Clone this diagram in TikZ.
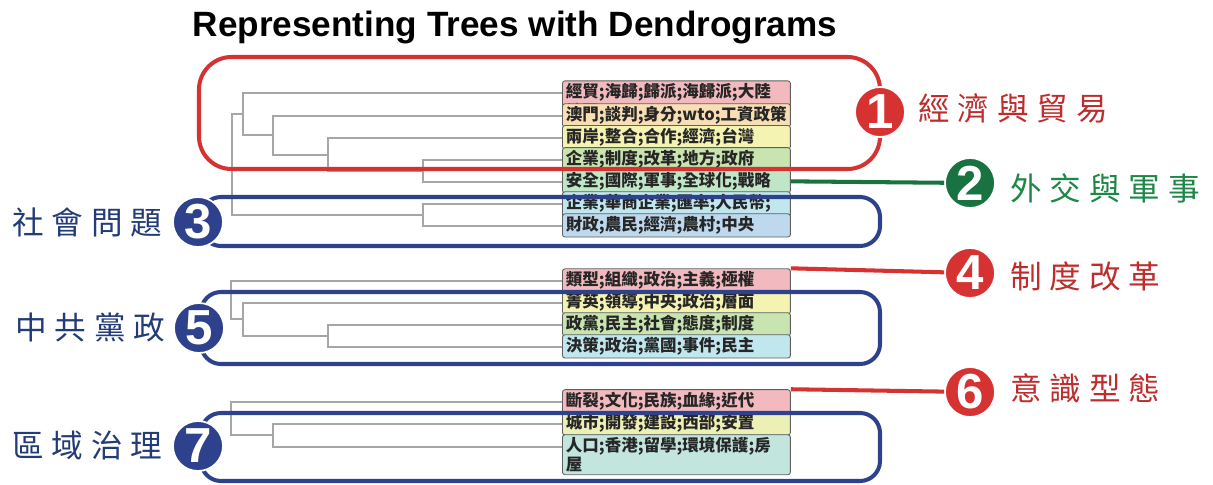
\documentclass[tikz,border=0pt]{standalone}
\usepackage{fontspec}
\setmainfont{Liberation Sans}
\newfontfamily\cjkleaf{Noto Sans CJK TC}
\newfontfamily\cjklab[LetterSpace=25]{Noto Sans CJK TC}
\usepackage{tikz}

\definecolor{ringred}{RGB}{214,50,50}
\definecolor{txtred}{RGB}{190,45,45}
\definecolor{ringblue}{RGB}{45,65,140}
\definecolor{txtblue}{RGB}{35,60,120}
\definecolor{ringgreen}{RGB}{25,115,65}
\definecolor{txtgreen}{RGB}{30,135,70}
\definecolor{lpink}{RGB}{242,186,190}
\definecolor{lpeach}{RGB}{248,222,180}
\definecolor{lyellow}{RGB}{245,243,178}
\definecolor{lgreen}{RGB}{200,228,176}
\definecolor{lmint}{RGB}{192,230,200}
\definecolor{lcyan}{RGB}{192,230,238}
\definecolor{lblue}{RGB}{190,216,238}
\definecolor{lteal}{RGB}{194,229,222}
\definecolor{llime}{RGB}{236,240,180}

\begin{document}
\begin{tikzpicture}[x=0.02cm,y=-0.02cm,
    leaf/.style={draw=gray!75!black,line width=.5pt,rounded corners=1.5pt,anchor=mid west,
      text width=4.42cm,inner xsep=2pt,inner ysep=1.5pt,align=left,text=black!85,
      font=\cjkleaf\bfseries\fontsize{9.4}{8.6}\selectfont},
    dendro/.style={draw=gray!70,line width=.6pt},
    ring/.style={line width=2.3pt},
    badge/.style={circle,draw=white,line width=1pt,minimum size=1cm,inner sep=0pt,text=white,
      font=\bfseries\fontsize{28}{28}\selectfont},
    catlab/.style={anchor=west,inner sep=0pt,font=\cjklab\fontsize{18}{18}\selectfont}]
  \useasboundingbox (0,0) rectangle (1213,484);

  \node (title) at (515,27) {\bfseries\fontsize{20}{22}\selectfont Representing Trees with Dendrograms};

  % leaves
  \node[leaf,fill=lpink]   (l1) at (562,93)  {經貿;海歸;歸派;海歸派;大陸\\地區};
  \node[leaf,fill=lpeach]  (l2) at (562,116) {澳門;談判;身分;wto;工資政策};
  \node[leaf,fill=lyellow] (l3) at (562,138) {兩岸;整合;合作;經濟;台灣};
  \node[leaf,fill=lgreen]  (l4) at (562,160) {企業;制度;改革;地方;政府};
  \node[leaf,fill=lmint]   (l5) at (562,182) {安全;國際;軍事;全球化;戰略};
  \node[leaf,fill=lcyan]   (l6) at (562,204) {企業;華商企業;匯率;人民幣;\\本幣};
  \node[leaf,fill=lblue]   (l7) at (562,226) {財政;農民;經濟;農村;中央};

  \node[leaf,fill=lpink]   (l8)  at (562,281) {類型;組織;政治;主義;極權};
  \node[leaf,fill=lyellow] (l9)  at (562,303) {菁英;領導;中央;政治;層面};
  \node[leaf,fill=lgreen]  (l10) at (562,325) {政黨;民主;社會;態度;制度};
  \node[leaf,fill=lcyan]   (l11) at (562,347) {決策;政治;黨國;事件;民主};

  \node[leaf,fill=lpink]   (l12) at (562,402) {斷裂;文化;民族;血緣;近代};
  \node[leaf,fill=llime]   (l13) at (562,424) {城市;開發;建設;西部;安置};
  \node[leaf,fill=lteal]   (l14) at (562,447) {人口;香港;留學;環境保護;房\\屋};

  % dendrogram
  \coordinate (n45) at (423,171);
  \coordinate (n345) at (328,155);
  \coordinate (n2) at (273,135);
  \coordinate (n1) at (243,114);
  \coordinate (n67) at (423,215);
  \coordinate (r1) at (232,164);
  \draw[dendro] (l4.mid west) -| (n45) |- (l5.mid west);
  \draw[dendro] (l3.mid west) -| (n345) |- (n45);
  \draw[dendro] (l2.mid west) -| (n2) |- (n345);
  \draw[dendro] (l1.mid west) -| (n1) |- (n2);
  \draw[dendro] (l6.mid west) -| (n67) |- (l7.mid west);
  \draw[dendro] (n1) -| (r1) |- (n67);

  \coordinate (m34) at (328,336);
  \coordinate (m2) at (243,319);
  \coordinate (m1) at (231,300);
  \draw[dendro] (l10.mid west) -| (m34) |- (l11.mid west);
  \draw[dendro] (l9.mid west) -| (m2) |- (m34);
  \draw[dendro] (l8.mid west) -| (m1) |- (m2);

  \coordinate (b23) at (273,435);
  \coordinate (b1) at (231,418);
  \draw[dendro] (l13.mid west) -| (b23) |- (l14.mid west);
  \draw[dendro] (l12.mid west) -| (b1) |- (b23);

  % groups
  \draw[ring,ringred,rounded corners=0.65cm] (199,57) rectangle (880,169);
  \draw[ring,ringblue,rounded corners=0.4cm] (201,197) rectangle (880,246);
  \draw[ring,ringblue,rounded corners=0.4cm] (201,292) rectangle (880,364);
  \draw[ring,ringblue,rounded corners=0.4cm] (201,413) rectangle (880,481);

  \node[badge,fill=ringred]   (c1) at (880,112) {1};
  \node[badge,fill=ringgreen] (c2) at (970,183) {2};
  \node[badge,fill=ringblue]  (c3) at (198,222) {3};
  \node[badge,fill=ringred]   (c4) at (970,273) {4};
  \node[badge,fill=ringblue]  (c5) at (199,328) {5};
  \node[badge,fill=ringred]   (c6) at (970,392) {6};
  \node[badge,fill=ringblue]  (c7) at (198,446) {7};

  \draw[ring,ringgreen] (l5.east) -- (c2);
  \draw[ring,ringred] (l8.north east) -- (c4);
  \draw[ring,ringred] (l12.north east) -- (c6);

  \node[catlab,text=txtred]   (t1) at (918,108) {經濟與貿易};
  \node[catlab,text=txtgreen] (t2) at (1010,188) {外交與軍事};
  \node[catlab,text=txtblue]  (t3) at (12,222) {社會問題};
  \node[catlab,text=txtred]   (t4) at (1010,276) {制度改革};
  \node[catlab,text=txtblue]  (t5) at (15,327) {中共黨政};
  \node[catlab,text=txtred]   (t6) at (1010,388) {意識型態};
  \node[catlab,text=txtblue]  (t7) at (12,445) {區域治理};
\end{tikzpicture}
\end{document}
